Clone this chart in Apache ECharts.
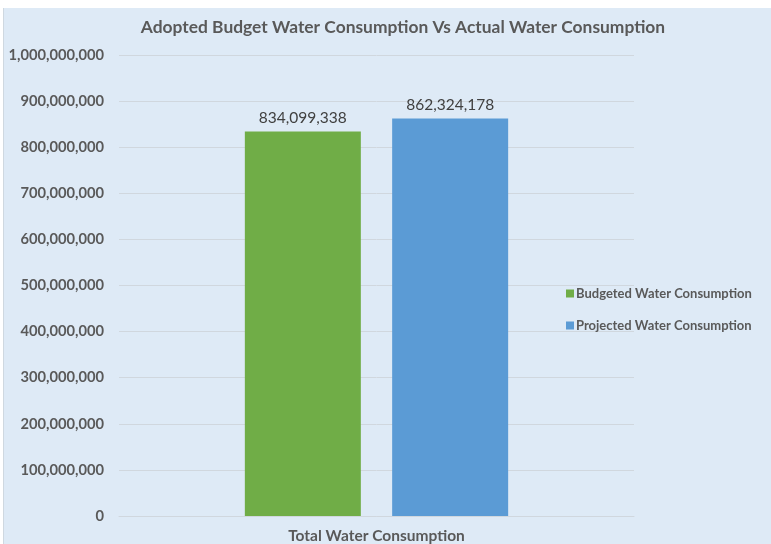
<!DOCTYPE html>
<html><head><meta charset="utf-8">
<script src="https://cdn.jsdelivr.net/npm/echarts@6/dist/echarts.min.js"></script>
<style>
html,body{margin:0;padding:0;background:#fff;width:771px;height:544px;overflow:hidden;}
#chart{position:absolute;left:3px;top:8px;width:768px;height:536px;background:#DEEAF6;border-left:1px solid #cfd8e0;box-sizing:border-box;}
</style></head>
<body><div id="chart"></div>
<script>
const categories = ['Total Water Consumption'];
const seriesNames = ['Budgeted Water Consumption', 'Projected Water Consumption'];
const budgeted = [834099338];
const projected = [862324178];
const yTicks = [0, 100000000, 200000000, 300000000, 400000000, 500000000, 600000000, 700000000, 800000000, 900000000, 1000000000];

const fmt = v => Number(v).toLocaleString('en-US');
const chart = echarts.init(document.getElementById('chart'));
const font = 'Lato, "Open Sans", sans-serif';
chart.setOption({
  animation: false,
  title: {
    text: 'Adopted Budget Water Consumption Vs Actual Water Consumption',
    left: 394, top: 6, textAlign: 'center',
    textStyle: {fontFamily: font, fontSize: 17.4, fontWeight: 'bold', color: '#595959'}
  },
  legend: {
    orient: 'vertical', left: 557, top: 274, itemGap: 19,
    itemWidth: 8, itemHeight: 8, icon: 'rect',
    data: seriesNames,
    textStyle: {fontFamily: font, fontSize: 13, fontWeight: 'bold', color: '#595959', padding: [0,0,0,-3]}
  },
  grid: {left: 115, right: 137, top: 47, bottom: 27, containLabel: false},
  xAxis: {
    type: 'category', data: categories,
    axisLine: {lineStyle: {color: '#d0d7de'}},
    axisTick: {show: false},
    axisLabel: {fontFamily: font, fontSize: 15.5, fontWeight: 'bold', color: '#595959', margin: 12}
  },
  yAxis: {
    type: 'value', min: yTicks[0], max: yTicks[yTicks.length-1], interval: yTicks[1]-yTicks[0],
    axisLine: {show: false}, axisTick: {show: false},
    splitLine: {lineStyle: {color: '#d0d7de'}},
    axisLabel: {fontFamily: font, fontSize: 14.7, fontWeight: 'bold', color: '#595959', margin: 15, formatter: fmt}
  },
  series: [
    {name: seriesNames[0], type: 'bar', data: budgeted, barWidth: 116, barGap: '27%',
     itemStyle: {color: '#70AD47'},
     label: {show: true, position: 'top', formatter: p => fmt(p.value), fontFamily: font, fontSize: 15.5, color: '#404040', distance: 5}},
    {name: seriesNames[1], type: 'bar', data: projected, barWidth: 116,
     itemStyle: {color: '#5B9BD5'},
     label: {show: true, position: 'top', formatter: p => fmt(p.value), fontFamily: font, fontSize: 15.5, color: '#404040', distance: 5}}
  ]
});
</script></body></html>
